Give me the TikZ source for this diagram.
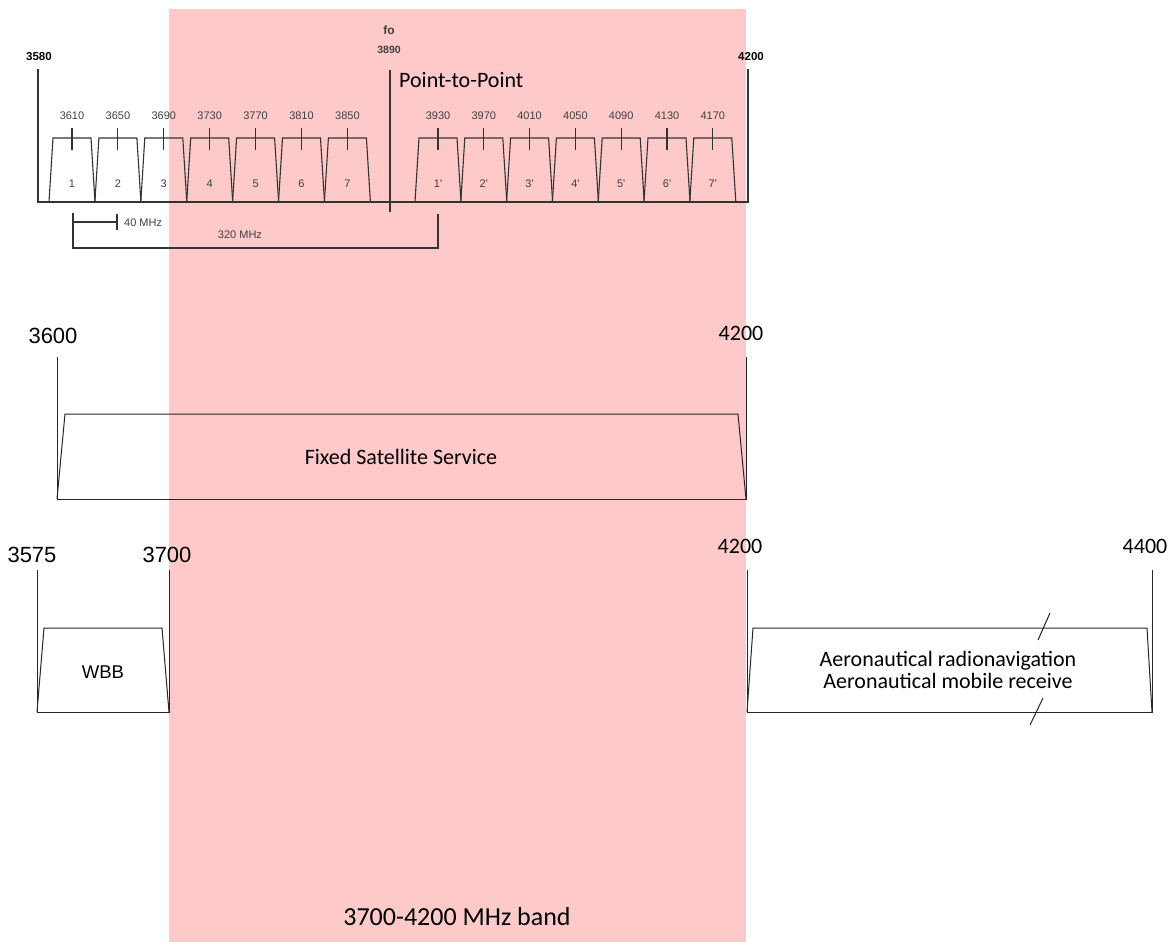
\documentclass[tikz,border=0pt]{standalone}
\usepackage{fontspec}
\setmainfont{Carlito}
\newfontfamily\arialfont{Liberation Sans}
\definecolor{bandpink}{RGB}{253,201,201}

\begin{document}
\begin{tikzpicture}[x=1pt, y=-1pt,
  lbl/.style={font=\fontsize{22}{26}\selectfont, inner sep=0pt},
  num/.style={font=\arialfont\fontsize{22}{26}\selectfont, inner sep=0pt},
  small/.style={font=\arialfont\fontsize{11}{13}\selectfont, text=black!75, inner sep=0pt},
  chan/.style={draw=black!80, line width=1.1pt},
  band/.style={draw=black!85, line width=1pt},
]
\useasboundingbox (0,0) rectangle (1176,942);

% === 3700-4200 band ===
\fill[bandpink] (169,9) rectangle (746,942);
\node[lbl, font=\fontsize{26}{30}\selectfont] (bandname) at (457,917) {3700-4200 MHz band};

% === Point-to-Point channel plan ===
\draw[chan] (38,69) -- (38,202) -- (748,202) -- (748,69);
\draw[chan] (390,70) -- (390,212);
\node[small, font=\arialfont\bfseries\fontsize{11.5}{13}\selectfont, text=black] (p3580) at (39,57) {3580};
\node[small, font=\arialfont\bfseries\fontsize{11.5}{13}\selectfont, text=black] (p4200) at (751,57) {4200};
\node[small, font=\arialfont\bfseries\fontsize{12}{13}\selectfont] (fo) at (389,30) {fo};
\node[small, font=\arialfont\bfseries\fontsize{10.5}{12}\selectfont] (f3890) at (389,50) {3890};
\node[lbl, anchor=west] (ptp) at (399,80) {Point-to-Point};

\foreach \i/\f in {1/3610,2/3650,3/3690,4/3730,5/3770,6/3810,7/3850} {
  \pgfmathsetmacro\cx{72+(\i-1)*45.9}
  \draw[chan] (\cx-23,202) -- (\cx-19,138) -- (\cx+19,138) -- (\cx+23,202);
  \draw[chan] (\cx,128) -- (\cx,150);
  \node[small] (fl\i) at (\cx,116) {\f};
  \node[small] (cl\i) at (\cx,184) {\i};
}
\foreach \i/\f in {1/3930,2/3970,3/4010,4/4050,5/4090,6/4130,7/4170} {
  \pgfmathsetmacro\cx{438+(\i-1)*45.8}
  \draw[chan] (\cx-23,202) -- (\cx-19,138) -- (\cx+19,138) -- (\cx+23,202);
  \draw[chan] (\cx,128) -- (\cx,150);
  \node[small] (fr\i) at (\cx,116) {\f};
  \node[small] (cr\i) at (\cx,184) {\i'};
}

% spacing marks
\coordinate (m1) at (73,213);
\coordinate (m2) at (117,214);
\coordinate (m3) at (438,214);
\draw[chan] (m1) -- (73,248) -- (438,248) -- (m3);
\draw[chan] (73,222) -- (117,222);
\draw[chan] (m2) -- (117,230);
\node[small, anchor=west] (w40) at (124,223) {40 MHz};
\node[small] (w320) at (240,235) {320 MHz};

% === Fixed Satellite Service ===
\node[num] (s3600) at (53,336) {3600};
\node[lbl] (s4200) at (741,333) {4200};
\draw[band] (57,357) -- (57,499) -- (746,499) -- (746,357);
\draw[band] (57,499) -- (65,414) -- (738,414) -- (746,499);
\node[lbl] (fss) at (401,457) {Fixed Satellite Service};

% === WBB ===
\node[num] (w3575) at (32,555) {3575};
\node[num] (w3700) at (167,555) {3700};
\draw[band] (37,570) -- (37,712) -- (169,712) -- (169,570);
\draw[band] (37,712) -- (44,628) -- (162,628) -- (169,712);
\node[num, font=\arialfont\fontsize{18.5}{22}\selectfont] (wbb) at (103,672) {WBB};

% === Aeronautical ===
\node[lbl] (a4200) at (740,546) {4200};
\node[lbl] (a4400) at (1145,546) {4400};
\draw[band] (747,570) -- (747,712) -- (1152,712) -- (1152,570);
\draw[band] (747,712) -- (753,628) -- (1147,628) -- (1152,712);
\draw[band] (1050,613) -- (1038,640);
\draw[band] (1043,698) -- (1030,725);
\node[lbl, align=center] (aero) at (948,670) {Aeronautical radionavigation\\[-4pt]Aeronautical mobile receive};

\end{tikzpicture}
\end{document}
